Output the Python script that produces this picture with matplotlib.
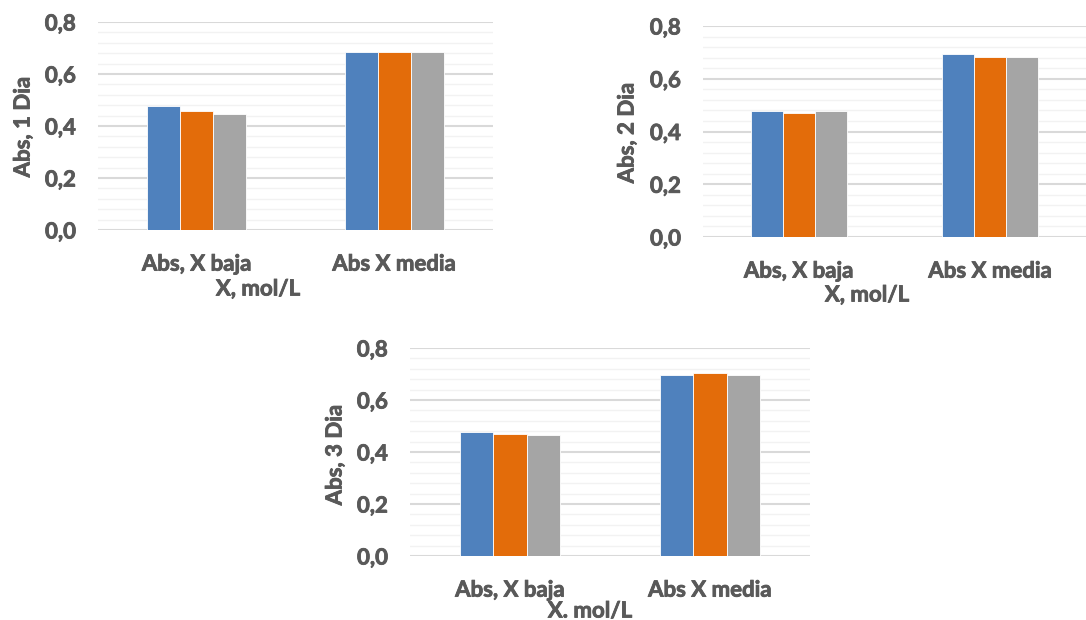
import matplotlib
matplotlib.use("Agg")
import matplotlib.pyplot as plt
import matplotlib.patheffects as pe
import numpy as np
from matplotlib.ticker import MultipleLocator, FuncFormatter

categories = ["Abs, X baja", "Abs X media"]
dia1 = [[0.476, 0.686], [0.456, 0.686], [0.447, 0.683]]
dia2 = [[0.476, 0.693], [0.472, 0.682], [0.477, 0.682]]
dia3 = [[0.477, 0.698], [0.471, 0.704], [0.465, 0.698]]
ylabels = ["Abs, 1 Dia", "Abs, 2 Dia", "Abs, 3 Dia"]
xlabels = ["X, mol/L", "X, mol/L", "X. mol/L"]
colors = ["#4F81BD", "#E36C0A", "#A5A5A5"]

W, H = 1086, 620
fig = plt.figure(figsize=(W / 100, H / 100), dpi=100)
plt.rcParams['font.family'] = ['Lato', 'DejaVu Sans']
txtcol = "#595959"
fs = 16
thick = [pe.withStroke(linewidth=0.6, foreground=txtcol)]

# pixel boxes: left, top, right, bottom
boxes = [(98, 22, 493, 230), (703, 26, 1086, 237), (410, 348, 810, 556)]
xlab_pos = [(258, 289), (867, 295), (590, 611)]
ylab_pos = [(23, 127), (627, 133), (335, 455)]

for i, (data, box) in enumerate(zip([dia1, dia2, dia3], boxes)):
    l, t, r, b = box
    ax = fig.add_axes([l / W, 1 - b / H, (r - l) / W, (b - t) / H])
    x = np.arange(len(categories))
    bw = 0.5 / 3
    for k, series in enumerate(data):
        ax.bar(x + (k - 1) * bw, series, width=bw, color=colors[k],
               edgecolor="white", linewidth=0.6, zorder=3)
    ax.set_xlim(-0.5, 1.5)
    ax.set_ylim(0, 0.8)
    ax.yaxis.set_major_locator(MultipleLocator(0.2))
    ax.yaxis.set_minor_locator(MultipleLocator(0.04))
    ax.yaxis.set_major_formatter(FuncFormatter(lambda v, p: f"{v:.1f}".replace(".", ",")))
    ax.grid(axis="y", which="major", color="#D9D9D9", linewidth=1.5, zorder=0)
    ax.grid(axis="y", which="minor", color="#F2F2F2", linewidth=1.0, zorder=0)
    for s in ax.spines.values():
        s.set_visible(False)
    ax.set_xticks(x)
    ax.set_xticklabels(categories, fontsize=fs, fontweight="bold", color=txtcol)
    ax.tick_params(axis="x", length=0, pad=17)
    ax.tick_params(axis="y", which="both", length=0, pad=16, labelsize=fs,
                   labelcolor=txtcol)
    for lab in ax.get_yticklabels() + ax.get_xticklabels():
        lab.set_fontweight("bold")
        lab.set_path_effects(thick)
    fig.text(xlab_pos[i][0] / W, 1 - xlab_pos[i][1] / H, xlabels[i], fontsize=fs,
             fontweight="bold", color=txtcol, ha="center", va="center",
             path_effects=thick)
    fig.text(ylab_pos[i][0] / W, 1 - ylab_pos[i][1] / H, ylabels[i], fontsize=fs,
             fontweight="bold", color=txtcol, ha="center", va="center", rotation=90,
             path_effects=thick)

fig.savefig("out.png", dpi=100, facecolor="white")
